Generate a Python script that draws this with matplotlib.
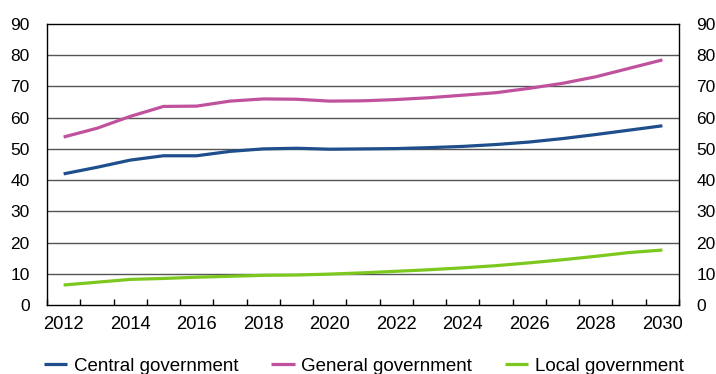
import matplotlib
matplotlib.use("Agg")
import matplotlib.pyplot as plt
import numpy as np

plt.rcParams['font.family'] = ['Liberation Sans', 'DejaVu Sans']

years = list(range(2012, 2031))
central = [42.0, 44.1, 46.4, 47.8, 47.8, 49.2, 50.0, 50.2, 49.9, 50.0, 50.1, 50.4, 50.8, 51.4,
           52.2, 53.3, 54.6, 56.0, 57.4]
general = [53.8, 56.6, 60.4, 63.6, 63.7, 65.3, 66.0, 65.9, 65.3, 65.4, 65.8, 66.4, 67.2, 68.0,
           69.4, 71.0, 73.1, 75.8, 78.5]
local = [6.4, 7.3, 8.2, 8.5, 8.9, 9.2, 9.5, 9.6, 9.9, 10.3, 10.8, 11.3, 11.9, 12.6,
         13.5, 14.5, 15.6, 16.8, 17.6]

series_names = ["Central government", "General government", "Local government"]
colors = ["#1f4e8c", "#c0519d", "#7dc81f"]
yticks = list(range(0, 91, 10))

fig = plt.figure(figsize=(7.16, 3.74), dpi=100)
ax = fig.add_axes([47/716, 1-305/374, (679-47)/716, (305-24)/374])

x = np.arange(len(years))
for vals, c, name in zip([central, general, local], colors, series_names):
    ax.plot(x, vals, color=c, lw=2.3, label=name, solid_capstyle='butt', zorder=3)

ax.set_xlim(-0.5, len(years) - 0.5)
ax.set_ylim(0, 90)
ax.set_yticks(yticks)
for yv in yticks[1:-1]:
    ax.axhline(yv, color="#555555", lw=1.0, zorder=1)

ax.set_xticks(np.arange(-0.5, len(years) - 0.4, 1.0))
ax.set_xticklabels([])
ax.set_xticks(x[::2], minor=True)
ax.set_xticklabels([str(y) for y in years[::2]], minor=True)
ax.tick_params(axis='x', which='major', direction='in', length=4, width=1, color='black')
ax.tick_params(axis='x', which='minor', length=0, pad=8, labelsize=13.2)
ax.tick_params(axis='y', length=0, labelsize=12.5, pad=12.5, left=True, right=True,
               labelleft=True, labelright=True)
for s in ax.spines.values():
    s.set_color('black')
    s.set_linewidth(1.0)

fig.legend(loc='center left', bbox_to_anchor=(44/716, 1-366/374), ncol=3, frameon=False,
           fontsize=13.5, handlelength=1.25, handletextpad=0.35, columnspacing=1.75,
           borderaxespad=0, borderpad=0)

fig.savefig("out.png", dpi=100)
